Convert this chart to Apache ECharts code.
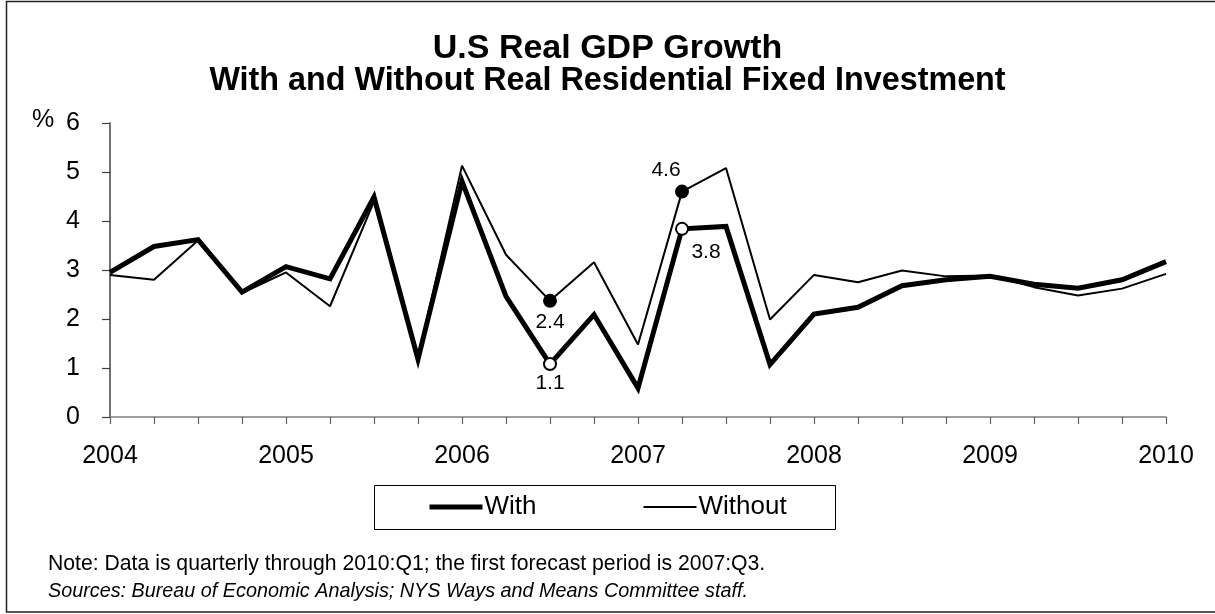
<!DOCTYPE html>
<html><head><meta charset="utf-8">
<script src="https://cdn.jsdelivr.net/npm/echarts@6/dist/echarts.min.js"></script>
<style>html,body{margin:0;padding:0;background:#fff}#c{width:1215px;height:614px}</style>
</head><body><div id="c"></div>
<script>
const quarters = ['2004:Q1','2004:Q2','2004:Q3','2004:Q4','2005:Q1','2005:Q2','2005:Q3','2005:Q4',
  '2006:Q1','2006:Q2','2006:Q3','2006:Q4','2007:Q1','2007:Q2','2007:Q3','2007:Q4',
  '2008:Q1','2008:Q2','2008:Q3','2008:Q4','2009:Q1','2009:Q2','2009:Q3','2009:Q4','2010:Q1'];
const yearLabels = ['2004','2005','2006','2007','2008','2009','2010'];
const withVals = [2.95,3.48,3.62,2.55,3.07,2.82,4.49,1.18,4.81,2.46,1.08,2.09,0.59,3.84,3.89,1.07,2.10,2.24,2.68,2.80,2.87,2.71,2.63,2.80,3.17];
const withoutVals = [2.90,2.80,3.60,2.53,2.95,2.26,4.40,1.20,5.13,3.31,2.37,3.16,1.48,4.60,5.08,1.99,2.90,2.75,2.99,2.87,2.89,2.65,2.48,2.62,2.92];
const markedIdx = [10, 13];

const FONT = 'Liberation Sans, Arial, sans-serif';

function build(vals, filled, labelPos) {
  return vals.map((v, i) => {
    const k = markedIdx.indexOf(i);
    if (k < 0) return v;
    return {
      value: v,
      symbol: 'circle',
      symbolSize: 12,
      itemStyle: { color: filled ? '#000' : '#fff', borderColor: '#000', borderWidth: 2, opacity: 1 },
      label: Object.assign({ show: true, formatter: v.toFixed(1), color: '#000', fontSize: 21, fontFamily: FONT }, labelPos[k])
    };
  });
}

const chart = echarts.init(document.getElementById('c'), null, { renderer: 'canvas' });
chart.setOption({
  animation: false,
  backgroundColor: '#fff',
  title: {
    text: '{a|U.S Real GDP Growth}\n{b|With and Without Real Residential Fixed Investment}',
    left: 'center', top: 27,
    textStyle: {
      fontFamily: FONT, fontWeight: 'bold', color: '#000',
      rich: {
        a: { fontFamily: FONT, fontSize: 34, fontWeight: 'bold', color: '#000', lineHeight: 33 },
        b: { fontFamily: FONT, fontSize: 32.3, fontWeight: 'bold', color: '#000', lineHeight: 33 }
      }
    }
  },
  grid: { left: 110, right: 49, top: 123, bottom: 197 },
  legend: {
    left: 427, top: 494, padding: 0,
    itemWidth: 53, itemHeight: 14, itemGap: 106,
    lineStyle: { width: 'inherit' },
    itemStyle: { opacity: 0 },
    textStyle: { fontFamily: FONT, fontSize: 26, color: '#000', padding: [0, 0, 0, -3] },
    data: ['With', 'Without']
  },
  xAxis: {
    type: 'category', data: quarters, boundaryGap: false,
    axisLine: { lineStyle: { color: '#808080', width: 1.5 } },
    axisTick: { interval: 0, length: 7, lineStyle: { color: '#606060', width: 1.2 } },
    axisLabel: {
      interval: 3, margin: 27, color: '#000', fontFamily: FONT, fontSize: 25,
      formatter: (v, i) => yearLabels[i / 4]
    },
    splitLine: { show: false }
  },
  yAxis: {
    type: 'value', min: 0, max: 6, interval: 1,
    axisLine: { show: true, lineStyle: { color: '#404040', width: 1.5 } },
    axisTick: { show: true, length: 8, lineStyle: { color: '#404040', width: 1.2 } },
    axisLabel: { margin: 30, color: '#000', fontFamily: FONT, fontSize: 25 },
    splitLine: { show: false }
  },
  series: [
    {
      name: 'With', type: 'line', symbol: 'none', showSymbol: true, z: 2,
      lineStyle: { color: '#000', width: 5, join: 'miter' }, itemStyle: { color: '#000' },
      data: build(withVals, false, [
        { position: 'bottom', distance: 2 },
        { position: 'bottom', distance: 6, offset: [24, 0] }
      ])
    },
    {
      name: 'Without', type: 'line', symbol: 'none', showSymbol: true, z: 3,
      lineStyle: { color: '#000', width: 2 }, itemStyle: { color: '#000' },
      data: build(withoutVals, true, [
        { position: 'bottom', distance: 4 },
        { position: 'top', distance: 4, offset: [-16, 0] }
      ])
    }
  ],
  graphic: [
    { type: 'text', left: 32, top: 108, style: { text: '%', font: '25px ' + FONT, fill: '#000' } },
    { type: 'rect', shape: { x: 374.5, y: 485.5, width: 461, height: 44 }, style: { fill: 'none', stroke: '#000', lineWidth: 1 }, z: -1 },
    { type: 'text', left: 48, top: 554, style: { text: 'Note: Data is quarterly through 2010:Q1; the first forecast period is 2007:Q3.', font: '21.2px ' + FONT, fill: '#000' } },
    { type: 'text', left: 48, top: 581, style: { text: 'Sources: Bureau of Economic Analysis; NYS Ways and Means Committee staff.', font: 'italic 19.8px ' + FONT, fill: '#000' } },
    { type: 'polyline', shape: { points: [[1220, 1.5], [6.5, 1.5], [6.5, 612], [1220, 612]] }, style: { fill: 'none', stroke: '#222', lineWidth: 1.5 } }
  ]
});
</script>
</body></html>
